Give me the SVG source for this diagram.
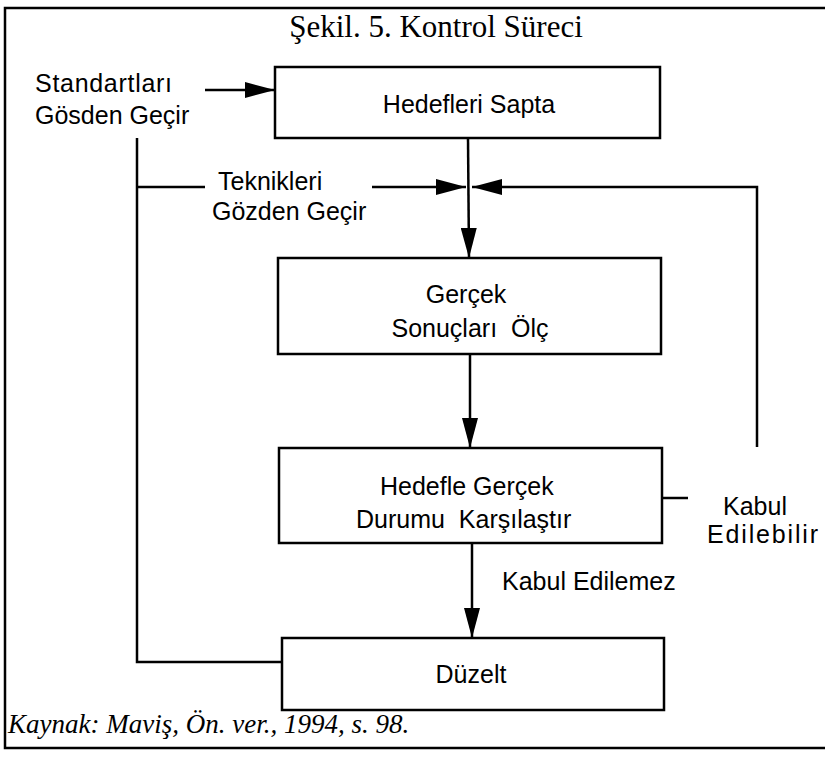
<svg xmlns="http://www.w3.org/2000/svg" width="825" height="757" viewBox="0 0 825 757">
<defs>
<marker id="ah" markerUnits="userSpaceOnUse" markerWidth="30" markerHeight="16" refX="30" refY="8" orient="auto">
<path d="M0,0 L30,8 L0,16 z" fill="#000"/>
</marker>
<style>
.box{fill:#fff;stroke:#000;stroke-width:2.5}
.ln{fill:none;stroke:#000;stroke-width:2.5}
.t{font-family:"Liberation Sans",Arial,sans-serif;font-size:25px;fill:#000;white-space:pre}
.c{text-anchor:middle}
.title{font-family:"Liberation Serif","Times New Roman",serif;font-size:31px;fill:#000;text-anchor:middle}
.src{font-family:"Liberation Serif","Times New Roman",serif;font-size:27px;font-style:italic;fill:#000}
</style>
</defs>
<rect width="825" height="757" fill="#fff"/>
<g id="frame">
<path class="ln" d="M825,8 H5 V748 H825"/>
</g>
<text class="title" x="436" y="37">Şekil. 5. Kontrol Süreci</text>
<g id="connectors">
<line class="ln" x1="205" y1="90" x2="275" y2="90" marker-end="url(#ah)"/>
<line class="ln" x1="468" y1="138" x2="469" y2="258" marker-end="url(#ah)"/>
<polyline class="ln" points="205,187 137,187"/>
<line class="ln" x1="372" y1="187" x2="466" y2="187" marker-end="url(#ah)"/>
<polyline class="ln" points="757,447 757,187 472,187" marker-end="url(#ah)"/>
<line class="ln" x1="662" y1="498" x2="688" y2="498"/>
<line class="ln" x1="470" y1="354" x2="470" y2="448" marker-end="url(#ah)"/>
<line class="ln" x1="472" y1="543" x2="472" y2="638" marker-end="url(#ah)"/>
<polyline class="ln" points="282,662 137,662 137,138"/>
</g>
<g id="standartlar">
<text class="t" x="35" y="92" textLength="137">Standartları</text>
<text class="t" x="35" y="124">Gösden Geçir</text>
</g>
<g id="hedefleri-sapta">
<rect class="box" x="275" y="67" width="385" height="71"/>
<text class="t c" x="469" y="113">Hedefleri Sapta</text>
</g>
<g id="teknikleri">
<text class="t" x="218" y="190">Teknikleri</text>
<text class="t" x="212" y="220">Gözden Geçir</text>
</g>
<g id="gercek-sonuclari">
<rect class="box" x="278" y="258" width="383" height="96"/>
<text class="t c" x="466" y="303">Gerçek</text>
<text class="t c" x="470" y="337">Sonuçları  Ölç</text>
</g>
<g id="karsilastir">
<rect class="box" x="279" y="448" width="383" height="95"/>
<text class="t" x="380" y="495">Hedefle Gerçek</text>
<text class="t" x="356" y="528">Durumu  Karşılaştır</text>
</g>
<g id="kabul-edilebilir">
<text class="t" x="723" y="515">Kabul</text>
<text class="t" x="707" y="543" textLength="111">Edilebilir</text>
</g>
<g id="kabul-edilemez">
<text class="t" x="502" y="590">Kabul Edilemez</text>
</g>
<g id="duzelt">
<rect class="box" x="282" y="638" width="382" height="72"/>
<text class="t c" x="471" y="683">Düzelt</text>
</g>
<text class="src" x="8" y="733">Kaynak: Maviş, Ön. ver., 1994, s. 98.</text>
</svg>
